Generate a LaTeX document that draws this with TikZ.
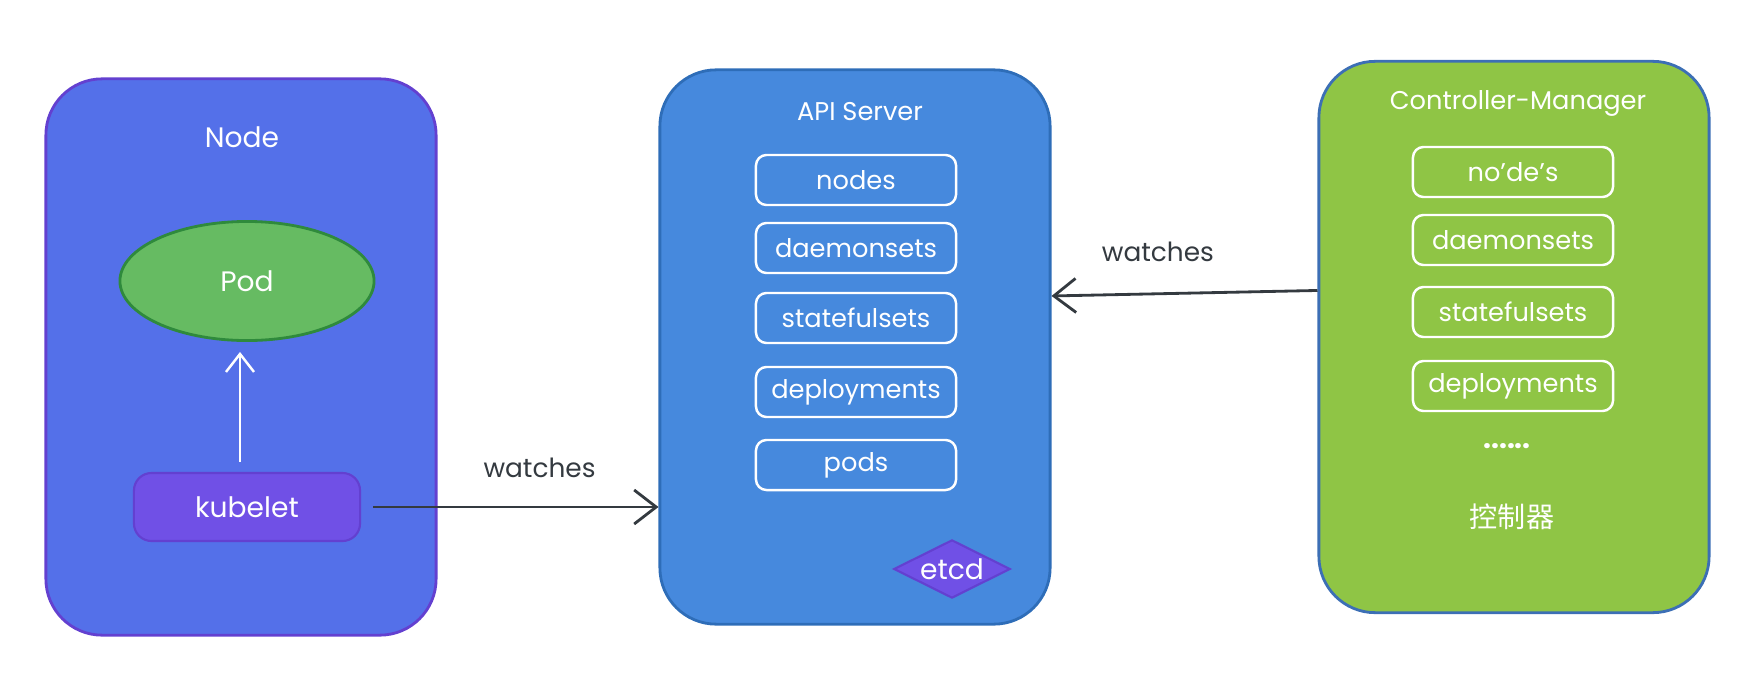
\documentclass[tikz,border=0pt]{standalone}
\usepackage{fontspec}
\setmainfont{Poppins}
\newfontfamily\cjk{Noto Sans CJK SC}
\usetikzlibrary{shapes.geometric,arrows.meta}

\definecolor{nodefill}{HTML}{5470E9}
\definecolor{nodeline}{HTML}{6340D0}
\definecolor{apifill}{HTML}{4689DD}
\definecolor{apiline}{HTML}{2E6DB8}
\definecolor{cmfill}{HTML}{8FC545}
\definecolor{cmline}{HTML}{3C6FB5}
\definecolor{podfill}{HTML}{66BB62}
\definecolor{podline}{HTML}{2F8A3C}
\definecolor{kubefill}{HTML}{7050E6}
\definecolor{inkgray}{HTML}{343A40}

\begin{document}
\begin{tikzpicture}[x=0.01cm, y=-0.01cm,
    panel/.style={draw, line width=0.8pt, rounded corners=16pt, minimum width=3.9cm},
    res/.style={draw=white, line width=0.7pt, rounded corners=3pt, minimum width=2cm,
      minimum height=0.5cm, text=white, font=\fontsize{7.3}{9}\selectfont},
    title/.style={text=white, font=\fontsize{7.3}{9}\selectfont},
    arr/.style={draw=inkgray, line width=0.8pt, -{Straight Barb[length=2.2mm,width=3.4mm]}},
    lbl/.style={text=inkgray, font=\fontsize{7.5}{9}\selectfont}]

  \useasboundingbox (0,0) rectangle (1763,697);

  % three big panels
  \node[panel, fill=nodefill, draw=nodeline, minimum height=5.56cm] (node) at (241,357) {};
  \node[panel, fill=apifill, draw=apiline, minimum height=5.54cm] (api) at (855,347) {};
  \node[panel, fill=cmfill, draw=cmline, minimum height=5.51cm] (cm) at (1514,337) {};

  \node[title, font=\fontsize{8}{9}\selectfont] (nodetitle) at (242,137) {Node};
  \node[title] (apititle) at (860,112) {API Server};
  \node[title] (cmtitle) at (1518,103) {Controller-Manager};

  % node side
  \node[ellipse, fill=podfill, draw=podline, line width=0.8pt, minimum width=2.54cm,
    minimum height=1.19cm, text=white, font=\fontsize{8}{9}\selectfont] (pod) at (247,281) {Pod};
  \node[fill=kubefill, draw=nodeline, line width=0.6pt, rounded corners=5pt, minimum width=2.26cm,
    minimum height=0.68cm, text=white, font=\fontsize{8}{9}\selectfont] (kubelet) at (247,507) {kubelet};
  \draw[white, line width=0.7pt, -{Straight Barb[length=1.8mm,width=2.8mm]}, shorten <=1mm, shorten >=1mm]
    (kubelet.north -| 240,0) -- (pod.south -| 240,0);

  % api server
  \node[res] (a1) at (856,180) {nodes};
  \node[res] (a2) at (856,248) {daemonsets};
  \node[res] (a3) at (856,318) {statefulsets};
  \node[res] (a4) at (856,392) {deployments};
  \node[res] (a5) at (856,465) {pods};
  \node[diamond, aspect=2, fill=kubefill, draw=nodeline, line width=0.6pt, inner sep=0.5pt,
    text=white, font=\fontsize{8}{9}\selectfont] (etcd) at (952,569) {etcd};

  % controller-manager
  \node[res] (c1) at (1513,172) {no'de's};
  \node[res] (c2) at (1513,240) {daemonsets};
  \node[res] (c3) at (1513,312) {statefulsets};
  \node[res] (c4) at (1513,386) {deployments};
  \node[title, font=\fontsize{8}{9}\selectfont\bfseries] (dots) at (1507,446) {......};
  \node[title, font=\cjk\fontsize{8}{9}\selectfont] (ctrl) at (1512,517) {控制器};

  % watches
  \draw[arr, shorten <=1.2mm] (kubelet.east) -- (kubelet.east -| api.west)
    node[lbl, above=1.6mm, pos=0.6] {watches};
  \draw[arr] ([yshift=4.65mm]cm.west) -- ([yshift=5.1mm]api.east)
    node[lbl, above=1.9mm, pos=0.6] {watches};
\end{tikzpicture}
\end{document}
